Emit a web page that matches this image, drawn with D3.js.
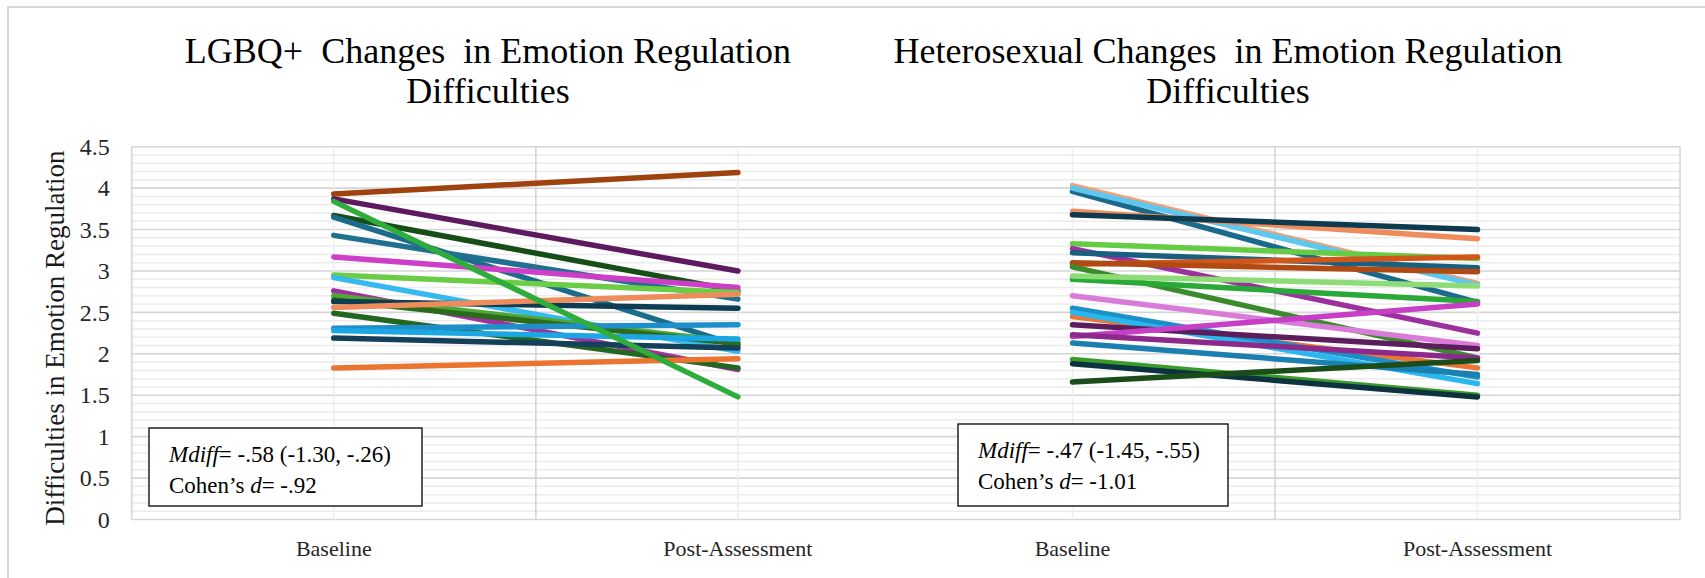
<!DOCTYPE html>
<html>
<head>
<meta charset="utf-8">
<script src="https://cdn.jsdelivr.net/npm/d3@7"></script>
<style>
  html, body { margin: 0; padding: 0; background: #fff; }
  svg { display: block; }
  svg text { font-family: "Liberation Serif", "Times New Roman", serif !important; }
</style>
</head>
<body>
<svg id="chart" width="1705" height="578"></svg>
<script>
// ---- data ----
const categories = ["Baseline", "Post-Assessment"];
const yTicks = [0, 0.5, 1, 1.5, 2, 2.5, 3, 3.5, 4, 4.5];

// LGBQ+ participants: mean score at each time point
const lgbqBaseline = [3.93, 3.87, 3.67, 3.65, 3.43, 3.17, 2.95, 2.92, 2.76, 2.70, 2.65, 2.63, 2.56, 2.49, 2.31, 2.28, 2.19, 1.83, 3.84];
const lgbqPost     = [4.19, 3.00, 2.76, 2.10, 2.66, 2.80, 2.74, 2.03, 1.81, 2.14, 2.12, 2.55, 2.72, 1.83, 2.35, 2.18, 2.07, 1.94, 1.48];
const lgbqColors   = ["#9e4210", "#5e1a5e", "#174d17", "#1b6b8b", "#22708f", "#cc3fc6", "#6acd45", "#35b9ef",
                      "#a3309f", "#4ea836", "#2c6b1e", "#0e3c52", "#ee8c5c", "#23661f", "#1f8fc9", "#1ba7e4",
                      "#15405a", "#ec7431", "#2ead3c"];

// Heterosexual participants
const hetBaseline = [2.45, 4.03, 3.96, 4.00, 3.72, 3.68, 3.33, 3.27, 3.22, 3.08, 3.10, 3.05, 2.90, 2.94, 2.70, 2.55,
                     2.50, 2.35, 2.21, 2.23, 2.13, 1.93, 1.88, 1.66];
const hetPost     = [1.83, 2.85, 2.62, 2.83, 3.39, 3.50, 3.15, 2.25, 3.04, 3.17, 2.99, 1.95, 2.63, 2.82, 2.10, 1.72,
                     1.64, 2.06, 2.60, 1.95, 1.75, 1.50, 1.48, 1.92];
const hetColors   = ["#ec7533", "#f2a078", "#1b6a8c", "#5cc8f0", "#ee8c5c", "#0c3a4e", "#66cc44", "#9c309c",
                     "#1a5f80", "#d05619", "#b04a12", "#3b8a2b", "#2aa838", "#8ddc78", "#d97bd9", "#1a8fc8",
                     "#2bb7ee", "#5c1d5c", "#c63fc6", "#8c2a8c", "#1b7fb0", "#3a9a2a", "#0d3341", "#1a4d1a"];

const lgbqStats = [[["Mdiff", true], ["= -.58 (-1.30, -.26)", false]],
                   [["Cohen\u2019s ", false], ["d", true], ["= -.92", false]]];
const hetStats  = [[["Mdiff", true], ["= -.47 (-1.45, -.55)", false]],
                   [["Cohen\u2019s ", false], ["d", true], ["= -1.01", false]]];

// ---- layout ----
const FONT = '"Liberation Serif", "Times New Roman", serif';
const svg = d3.select("#chart");
const plotTop = 146.7, plotBottom = 519.5;
const leftRange = [131.7, 940], rightRange = [870, 1680];

const y = d3.scaleLinear().domain([0, 4.5]).range([plotBottom, plotTop]);
const xL = d3.scaleBand().domain(categories).range(leftRange).padding(0);
const xR = d3.scaleBand().domain(categories).range(rightRange).padding(0);

// outer chart-area frame
svg.append("path")
  .attr("d", `M8,578 L8,7 L1705,7`)
  .attr("fill", "none").attr("stroke", "#d9d9d9").attr("stroke-width", 2);

// horizontal gridlines (minor every 0.1, major every 0.5)
const grid = svg.append("g");
const minor = d3.range(1, 45).map(i => i / 10).filter(v => Math.abs(v * 2 - Math.round(v * 2)) > 1e-6);
grid.selectAll("line.minor").data(minor).join("line")
  .attr("x1", leftRange[0]).attr("x2", rightRange[1])
  .attr("y1", d => y(d)).attr("y2", d => y(d))
  .attr("stroke", "#ebebeb").attr("stroke-width", 1.5);
grid.selectAll("line.major").data(yTicks).join("line")
  .attr("x1", leftRange[0]).attr("x2", rightRange[1])
  .attr("y1", d => y(d)).attr("y2", d => y(d))
  .attr("stroke", "#d6d6d6").attr("stroke-width", 1.6);

// vertical gridlines: light ones at category centres, darker ones between categories
function verticals(x) {
  categories.forEach(c => {
    grid.append("line")
      .attr("x1", x(c) + x.bandwidth() / 2).attr("x2", x(c) + x.bandwidth() / 2)
      .attr("y1", plotTop).attr("y2", plotBottom)
      .attr("stroke", "#eeeeee").attr("stroke-width", 1.5);
  });
  const sep = x(categories[1]);
  grid.append("line")
    .attr("x1", sep).attr("x2", sep).attr("y1", plotTop).attr("y2", plotBottom)
    .attr("stroke", "#d6d6d6").attr("stroke-width", 1.6);
}
verticals(xL);
verticals(xR);
[leftRange[0], rightRange[1]].forEach(xx => {
  grid.append("line").attr("x1", xx).attr("x2", xx).attr("y1", plotTop).attr("y2", plotBottom)
    .attr("stroke", "#d6d6d6").attr("stroke-width", 1.6);
});

// participant lines
function drawLines(x, base, post, colors) {
  const line = d3.line()
    .x(d => x(d.cat) + x.bandwidth() / 2)
    .y(d => y(d.v));
  const rows = base.map((b, i) => [{ cat: categories[0], v: b }, { cat: categories[1], v: post[i] }]);
  svg.append("g").selectAll("path").data(rows).join("path")
    .attr("d", line)
    .attr("fill", "none")
    .attr("stroke", (d, i) => colors[i])
    .attr("stroke-width", 5.5)
    .attr("stroke-linecap", "round");
}
drawLines(xL, lgbqBaseline, lgbqPost, lgbqColors);
drawLines(xR, hetBaseline, hetPost, hetColors);

// y axis labels
const yAxis = svg.append("g")
  .attr("transform", `translate(${leftRange[0]},0)`)
  .call(d3.axisLeft(y).tickValues(yTicks).tickSize(0).tickPadding(22).tickFormat(d3.format("")));
yAxis.attr("font-family", null).attr("font-size", null);
yAxis.select(".domain").remove();
yAxis.selectAll("text")
  .style("font-family", FONT)
  .attr("font-size", 24).attr("fill", "#262626");

// category labels
[xL, xR].forEach(x => {
  const ax = svg.append("g")
    .attr("transform", `translate(0,${plotBottom})`)
    .call(d3.axisBottom(x).tickSize(0).tickPadding(21));
  ax.attr("font-family", null).attr("font-size", null);
  ax.select(".domain").remove();
  ax.selectAll("text")
    .style("font-family", FONT)
    .attr("font-size", 22).attr("fill", "#262626");
});

// y axis title
svg.append("text")
  .attr("transform", `translate(55,${(plotTop + plotBottom) / 2 + 5}) rotate(-90)`)
  .attr("text-anchor", "middle").attr("dominant-baseline", "central")
  .style("font-family", FONT)
  .attr("font-size", 27).attr("fill", "#1a1a1a")
  .text("Difficulties in Emotion Regulation");

// chart titles
function title(cx, lines) {
  const t = svg.append("text").attr("text-anchor", "middle")
    .style("font-family", FONT)
    .attr("font-size", 36).attr("fill", "#000").style("white-space", "pre");
  lines.forEach((s, i) => {
    t.append("tspan").attr("x", cx).attr("y", 63 + i * 40).text(s);
  });
}
title(488, ["LGBQ+  Changes  in Emotion Regulation", "Difficulties"]);
title(1228, ["Heterosexual Changes  in Emotion Regulation", "Difficulties"]);

// statistics boxes
function statBox(x0, y0, w, h, tx, ty, lines) {
  svg.append("rect").attr("x", x0).attr("y", y0).attr("width", w).attr("height", h)
    .attr("fill", "#fff").attr("stroke", "#000").attr("stroke-width", 1.3);
  lines.forEach((segs, i) => {
    const t = svg.append("text").attr("x", tx).attr("y", ty + i * 31)
      .style("font-family", FONT)
      .attr("font-size", 23).attr("fill", "#000");
    segs.forEach(([s, it]) => t.append("tspan").attr("font-style", it ? "italic" : "normal").text(s));
  });
}
statBox(149, 428, 273, 78, 169, 461.5, lgbqStats);
statBox(958, 424, 270, 82, 978, 458, hetStats);
</script>
</body>
</html>
